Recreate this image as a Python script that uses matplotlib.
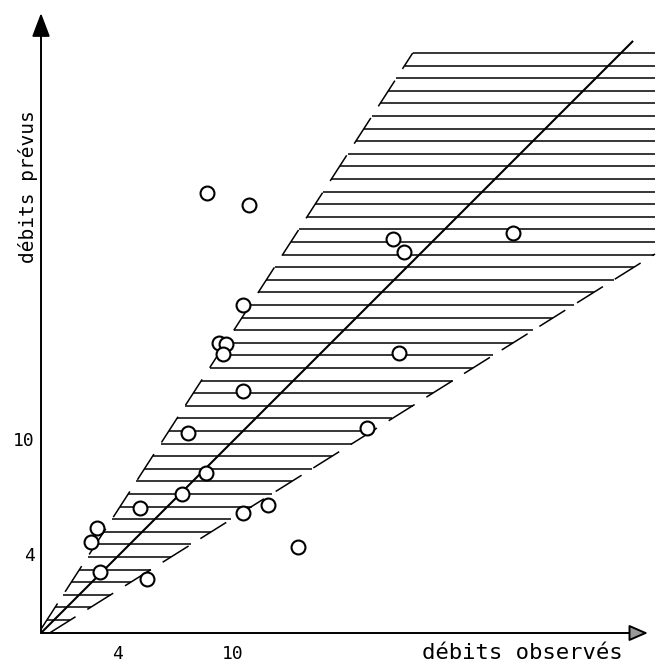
# debits observes / debits prevus, avec la bande hachuree autour de la premiere bissectrice
import numpy as np
import matplotlib
matplotlib.use("Agg")
import matplotlib.pyplot as plt

# points mesures (debit observe, debit prevu)
debits_observes = [8.65, 10.83, 18.33, 18.91, 24.58, 10.52, 9.27, 9.64, 9.48, 18.65,
                   10.52, 7.66, 16.98, 8.59, 7.34, 5.16, 10.52, 11.82, 2.92, 2.60,
                   3.07, 5.52, 13.39]
debits_prevus = [22.92, 22.29, 20.52, 19.84, 20.83, 17.08, 15.10, 15.05, 14.53, 14.58,
                 12.60, 10.42, 10.68, 8.33, 7.24, 6.51, 6.25, 6.67, 5.47, 4.74,
                 3.18, 2.81, 4.48]

# graduations
graduations_x = [4, 10]
graduations_y = [4, 10]

# limites de la bande : y = pente * x + ordonnee
pente_haute, ordonnee_haute = 1.55, 0.2
pente_basse, ordonnee_basse = 0.626, -0.28
y_bas_bande, y_haut_bande = 0.68, 30.21
x_droite_bande = 31.98
nb_hachures = 46
x_fin_bissectrice = 30.8

plt.rcParams['lines.scale_dashes'] = False
police = "DejaVu Sans Mono"

fig = plt.figure(figsize=(6.63, 6.65), dpi=100)
ax = fig.add_axes([41 / 663, 32 / 665, 619 / 663, 625 / 665])
ax.set_xlim(0, 619 / 19.2)
ax.set_ylim(0, 625 / 19.2)
ax.axis("off")

# hachures horizontales
niveaux = np.linspace(y_bas_bande, y_haut_bande, nb_hachures)
x_gauche = (niveaux - ordonnee_haute) / pente_haute
x_droite = np.minimum((niveaux - ordonnee_basse) / pente_basse, x_droite_bande)
ax.hlines(niveaux, x_gauche, x_droite, color="black", lw=1.1)

# bords de la bande en tirets
xh = np.array([0.0, (y_haut_bande - ordonnee_haute) / pente_haute])
ax.plot(xh, pente_haute * xh + ordonnee_haute, color="black", lw=1.1, dashes=(22, 10))
xb = np.array([0.45, x_droite_bande])
ax.plot(xb, pente_basse * xb + ordonnee_basse, color="black", lw=1.1, dashes=(22, 10))

# premiere bissectrice
ax.plot([0, x_fin_bissectrice], [0, x_fin_bissectrice], color="black", lw=1.5)

# points
ax.plot(debits_observes, debits_prevus, "o", ms=10, mfc="white", mec="black", mew=1.5)

# axes avec fleches
ax.annotate("", xy=(0, 32.29), xytext=(0, 0), annotation_clip=False,
            arrowprops=dict(arrowstyle="-|>,head_length=1.45,head_width=0.55",
                            mutation_scale=10, color="black", lw=1.4, shrinkA=0, shrinkB=0))
ax.annotate("", xy=(31.61, 0), xytext=(0, 0), annotation_clip=False,
            arrowprops=dict(arrowstyle="-|>,head_length=1.15,head_width=0.5",
                            mutation_scale=10, fc="#999999", ec="black", lw=1.4,
                            shrinkA=0, shrinkB=0))

for g in graduations_x:
    ax.text(g, -1.1, str(g), ha="center", va="center", fontsize=13, family=police)
for g in graduations_y:
    ax.text(-0.33, g, str(g), ha="right", va="center", fontsize=13, family=police)

ax.text(25.08, -1.05, "débits observés", ha="center", va="center", fontsize=16,
        family=police)
ax.text(-0.68, 23.23, "débits prévus", ha="center", va="center", rotation=90,
        fontsize=14, family=police)

fig.savefig("out.png", dpi=100)
